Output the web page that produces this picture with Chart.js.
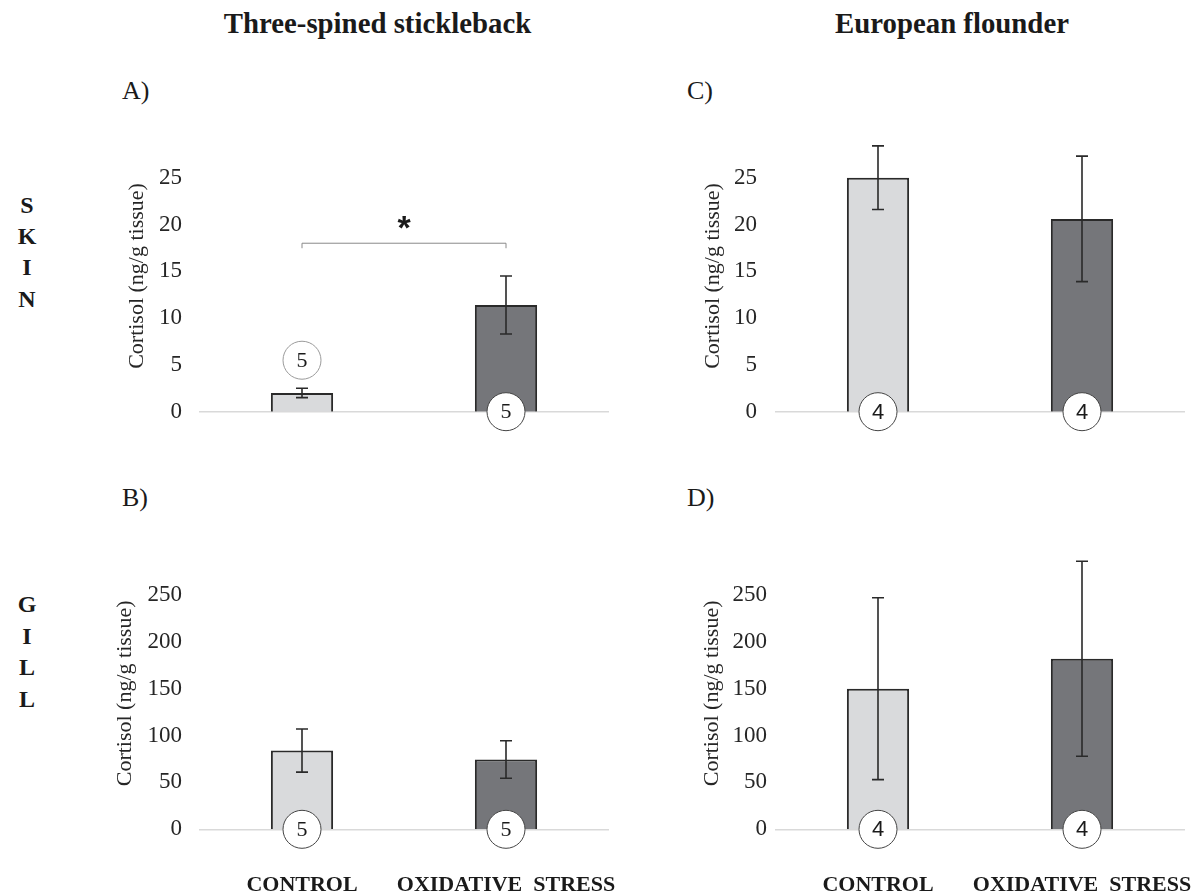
<!DOCTYPE html>
<html>
<head>
<meta charset="utf-8">
<script src="https://cdn.jsdelivr.net/npm/chart.js@4/dist/chart.umd.min.js"></script>
<style>
  body { margin: 0; width: 1200px; height: 896px; overflow: hidden; background: #fff; position: relative; }
  .t { position: absolute; white-space: pre; line-height: 1; color: #1a1a1a; font-family: "Liberation Serif", serif; }
  .b { font-weight: bold; }
  canvas { position: absolute; }
</style>
</head>
<body>
<div class="t b" style="left:377.5px;top:9px;font-size:28.8px;transform:translateX(-50%)">Three-spined stickleback</div>
<div class="t b" style="left:952px;top:9px;font-size:28.8px;transform:translateX(-50%)">European flounder</div>
<div class="t" style="left:122px;top:78px;font-size:26px">A)</div>
<div class="t" style="left:687px;top:78px;font-size:26px">C)</div>
<div class="t" style="left:122px;top:485px;font-size:26px">B)</div>
<div class="t" style="left:687px;top:485px;font-size:26px">D)</div>
<div class="t b" style="left:27px;top:193px;font-size:24px;transform:translateX(-50%)">S</div>
<div class="t b" style="left:27px;top:224px;font-size:24px;transform:translateX(-50%)">K</div>
<div class="t b" style="left:27px;top:255px;font-size:24px;transform:translateX(-50%)">I</div>
<div class="t b" style="left:27px;top:287px;font-size:24px;transform:translateX(-50%)">N</div>
<div class="t b" style="left:27px;top:592px;font-size:24px;transform:translateX(-50%)">G</div>
<div class="t b" style="left:27px;top:624px;font-size:24px;transform:translateX(-50%)">I</div>
<div class="t b" style="left:27px;top:655px;font-size:24px;transform:translateX(-50%)">L</div>
<div class="t b" style="left:27px;top:687px;font-size:24px;transform:translateX(-50%)">L</div>

<canvas id="skinA"></canvas>
<canvas id="gillB"></canvas>
<canvas id="skinC"></canvas>
<canvas id="gillD"></canvas>

<script>
// categories and values (mean and error bar half-length)
const categories = ["CONTROL", "OXIDATIVE  STRESS"];

const skinStickleback = [2.0, 11.4];
const skinSticklebackErr = [0.5, 3.1];
const gillStickleback = [84, 74.5];
const gillSticklebackErr = [23, 20];

const skinFlounder = [25.0, 20.6];
const skinFlounderErr = [3.4, 6.7];
const gillFlounder = [150, 182];
const gillFlounderErr = [97, 104];

// sample sizes shown in the circles, and the y value each circle sits at
const nStickleback = [5, 5];
const nFlounder = [4, 4];
const nPosSkinStickleback = [5.5, 0];
const nPosBase = [0, 0];

// significance bracket in panel A
const sigSkinStickleback = 18;

const skinAxis = { max: 29, step: 5 };
const gillAxis = { max: 290, step: 50 };

const barColors = ["#d9dadc", "#75767a"];
const ink = "#262626";

const AXIS_W = 100;
const LABEL_LH = 111.4;

const extras = {
  id: "extras",
  afterDatasetsDraw(chart) {
    const o = chart.options.plugins.extras;
    const ctx = chart.ctx;
    const y = chart.scales.y;
    const bars = chart.getDatasetMeta(0).data;
    ctx.save();
    // error bars
    ctx.strokeStyle = "#2a2a2a";
    ctx.lineWidth = 1.6;
    bars.forEach((b, i) => {
      const v = chart.data.datasets[0].data[i];
      const hi = y.getPixelForValue(v + o.err[i]);
      const lo = y.getPixelForValue(v - o.err[i]);
      ctx.beginPath();
      ctx.moveTo(b.x, hi); ctx.lineTo(b.x, lo);
      ctx.moveTo(b.x - 6, hi); ctx.lineTo(b.x + 6, hi);
      ctx.moveTo(b.x - 6, lo); ctx.lineTo(b.x + 6, lo);
      ctx.stroke();
    });
    // n circles
    bars.forEach((b, i) => {
      const cy = y.getPixelForValue(o.nPos[i]);
      ctx.beginPath();
      ctx.arc(b.x, cy, 19, 0, Math.PI * 2);
      ctx.fillStyle = "#fff";
      ctx.fill();
      ctx.lineWidth = 1;
      ctx.strokeStyle = o.nPos[i] > 0 ? "#9a9a9a" : "#444";
      ctx.stroke();
      ctx.fillStyle = "#1a1a1a";
      ctx.font = o.nFont;
      ctx.textAlign = "center";
      ctx.textBaseline = "middle";
      ctx.fillText(String(o.n[i]), b.x, cy + 1);
    });
    // significance bracket
    if (o.sig != null) {
      const sy = y.getPixelForValue(o.sig);
      const x0 = bars[0].x, x1 = bars[1].x;
      ctx.strokeStyle = "#8a8a8a";
      ctx.lineWidth = 1;
      ctx.beginPath();
      ctx.moveTo(x0, sy + 5); ctx.lineTo(x0, sy); ctx.lineTo(x1, sy); ctx.lineTo(x1, sy + 5);
      ctx.stroke();
      ctx.fillStyle = "#1a1a1a";
      ctx.font = "bold 34px 'Liberation Sans'";
      ctx.textAlign = "center";
      ctx.textBaseline = "alphabetic";
      ctx.fillText("*", (x0 + x1) / 2, sy - 4);
    }
    ctx.restore();
  }
};

// look: tick padding and y-title offset differ a little between panels in the original
function panel(id, chartLeft, chartTop, chartBottom, values, errs, ns, nPos, nFont, axis, showLabels, sig, look) {
  const cv = document.getElementById(id);
  const top = Math.floor(chartTop) - 40;
  const height = Math.ceil(chartBottom + LABEL_LH) + 2 - top;
  const left = chartLeft - AXIS_W;
  const width = AXIS_W + 408 + 16;
  cv.style.left = left + "px";
  cv.style.top = top + "px";
  cv.style.width = width + "px";
  cv.style.height = height + "px";
  cv.width = width;
  cv.height = height;

  new Chart(cv, {
    type: "bar",
    data: {
      labels: categories,
      datasets: [{
        data: values,
        backgroundColor: barColors,
        borderColor: "#2a2a2a",
        borderWidth: 2,
        barPercentage: 0.305,
        categoryPercentage: 1
      }]
    },
    options: {
      responsive: false,
      animation: false,
      layout: {
        padding: { left: 0, right: 16, top: chartTop - top, bottom: height - (chartBottom - top) - LABEL_LH }
      },
      plugins: {
        legend: { display: false },
        tooltip: { enabled: false },
        extras: { err: errs, n: ns, nPos: nPos, nFont: nFont, sig: sig }
      },
      scales: {
        x: {
          grid: { display: false, drawTicks: false },
          border: { display: true, color: "#d9d9d9", width: 1.5 },
          ticks: {
            padding: 0,
            autoSkip: false,
            maxRotation: 0,
            minRotation: 0,
            color: showLabels ? "#1a1a1a" : "rgba(0,0,0,0)",
            font: { family: "Liberation Serif", size: 22, weight: "bold", lineHeight: LABEL_LH / 22 }
          }
        },
        y: {
          min: 0,
          max: axis.max,
          grid: { display: false, drawTicks: false },
          border: { display: false },
          ticks: {
            stepSize: axis.step,
            includeBounds: false,
            padding: look.tickPad,
            color: ink,
            font: { family: "Liberation Serif", size: 23 }
          },
          title: {
            display: true,
            text: "Cortisol (ng/g tissue)",
            color: ink,
            font: { family: "Liberation Serif", size: 22 },
            padding: { top: look.titleX - 13.2, bottom: 0 }
          },
          afterFit(scale) { scale.width = AXIS_W; }
        }
      }
    },
    plugins: [extras]
  });
}

const serifN = "22px 'Liberation Serif'";
const sansN = "22px 'Liberation Sans'";

// chart area edges follow the reference layout (px per unit: 9.36 for skin, 0.937 for gill)
const skinTop = 411.7 - skinAxis.max * 9.36;
const gillTop = 829.3 - gillAxis.max * 0.9372;

panel("skinA", 200, skinTop, 411.7, skinStickleback, skinSticklebackErr, nStickleback, nPosSkinStickleback, serifN, skinAxis, false, sigSkinStickleback, { tickPad: 18, titleX: 37 });
panel("gillB", 200, gillTop, 829.3, gillStickleback, gillSticklebackErr, nStickleback, nPosBase, serifN, gillAxis, true, null, { tickPad: 18, titleX: 25 });
panel("skinC", 776, skinTop, 411.7, skinFlounder, skinFlounderErr, nFlounder, nPosBase, sansN, skinAxis, false, null, { tickPad: 19, titleX: 37 });
panel("gillD", 776, gillTop, 829.3, gillFlounder, gillFlounderErr, nFlounder, nPosBase, sansN, gillAxis, true, null, { tickPad: 9, titleX: 36 });
</script>
</body>
</html>
